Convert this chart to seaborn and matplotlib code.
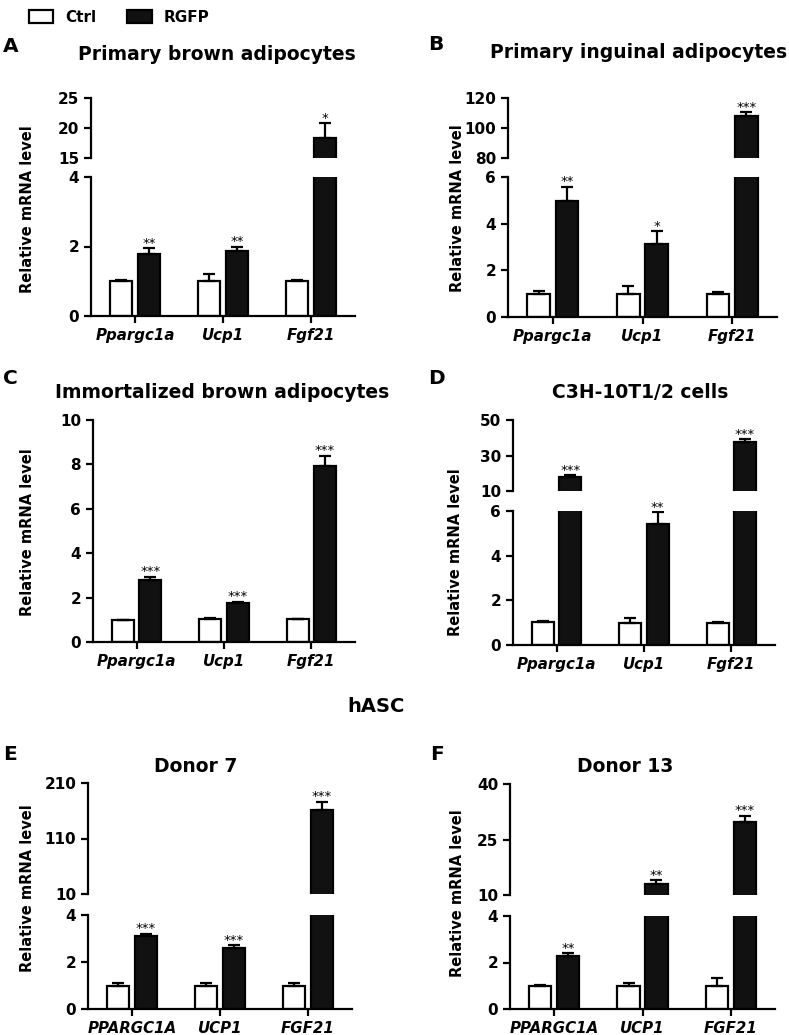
import matplotlib
matplotlib.use("Agg")
import matplotlib.pyplot as plt
import numpy as np
import pandas as pd
import seaborn as sns

W, H = 789, 1035

mouse_genes = ["Ppargc1a", "Ucp1", "Fgf21"]
human_genes = ["PPARGC1A", "UCP1", "FGF21"]
groups = ["Ctrl", "RGFP"]

# A. Primary brown adipocytes
a_ctrl = [1.0, 1.0, 1.0]
a_ctrl_err = [0.03, 0.21, 0.03]
a_rgfp = [1.79, 1.88, 18.4]
a_rgfp_err = [0.16, 0.11, 2.4]
a_stars = ["**", "**", "*"]

# B. Primary inguinal adipocytes
b_ctrl = [1.0, 1.0, 1.0]
b_ctrl_err = [0.13, 0.35, 0.06]
b_rgfp = [4.98, 3.11, 108.3]
b_rgfp_err = [0.6, 0.57, 2.3]
b_stars = ["**", "*", "***"]

# C. Immortalized brown adipocytes
c_ctrl = [1.0, 1.02, 1.02]
c_ctrl_err = [0.0, 0.04, 0.01]
c_rgfp = [2.79, 1.77, 7.93]
c_rgfp_err = [0.15, 0.05, 0.46]
c_stars = ["***", "***", "***"]

# D. C3H-10T1/2 cells
d_ctrl = [1.03, 1.0, 1.0]
d_ctrl_err = [0.03, 0.2, 0.01]
d_rgfp = [17.7, 5.4, 37.8]
d_rgfp_err = [1.1, 0.55, 1.5]
d_stars = ["***", "**", "***"]

# E. hASC donor 7
e_ctrl = [1.0, 1.0, 1.0]
e_ctrl_err = [0.1, 0.1, 0.1]
e_rgfp = [3.1, 2.6, 161.0]
e_rgfp_err = [0.1, 0.12, 15.0]
e_stars = ["***", "***", "***"]

# F. hASC donor 13
f_ctrl = [1.0, 1.0, 1.0]
f_ctrl_err = [0.05, 0.12, 0.33]
f_rgfp = [2.28, 13.0, 29.7]
f_rgfp_err = [0.13, 1.0, 1.7]
f_stars = ["**", "**", "***"]

sns.set_style("ticks")
plt.rcParams["font.family"] = ["DejaVu Sans"]
plt.rcParams["font.weight"] = "bold"
plt.rcParams["axes.linewidth"] = 1.6
for key in ["text.color", "axes.labelcolor", "xtick.color", "ytick.color",
            "axes.edgecolor"]:
    plt.rcParams[key] = "black"

fig = plt.figure(figsize=(W / 100, H / 100), dpi=100)
palette = {"Ctrl": "white", "RGFP": "#111111"}


def rect(l, t, r, b):
    return [l / W, 1 - b / H, (r - l) / W, (b - t) / H]


def make_df(genes, ctrl, rgfp):
    rows = []
    for g, c, r in zip(genes, ctrl, rgfp):
        rows.append({"gene": g, "group": "Ctrl", "value": c})
        rows.append({"gene": g, "group": "RGFP", "value": r})
    return pd.DataFrame(rows)


def draw_bars(ax, df, errs, stars, lim):
    sns.barplot(data=df, x="gene", y="value", hue="group", hue_order=groups,
                palette=palette, edgecolor="black", linewidth=1.6,
                width=0.63, gap=0.2, errorbar=None, ax=ax)
    for cont, err in zip(ax.containers, errs):
        xs = [p.get_x() + p.get_width() / 2 for p in cont.patches]
        vals = [p.get_height() for p in cont.patches]
        ax.errorbar(xs, vals, yerr=[np.zeros(len(err)), err], fmt="none",
                    ecolor="black", elinewidth=1.6, capsize=4, capthick=1.6)
    # stars above RGFP bars
    cont = ax.containers[1]
    for p, e, s in zip(cont.patches, errs[1], stars):
        top = p.get_height() + e
        if lim[0] <= top <= lim[1]:
            ax.annotate(s, (p.get_x() + p.get_width() / 2, top),
                        xytext=(0, 1), textcoords="offset points",
                        ha="center", va="baseline", fontsize=9.5,
                        fontweight="normal")
    ax.set_xlim(-0.5, 2.5)
    ax.set_ylim(*lim)
    ax.set_xlabel("")
    ax.set_ylabel("")
    if ax.get_legend() is not None:
        ax.get_legend().remove()
    ax.tick_params(direction="out", length=5, width=1.6, labelsize=11)
    sns.despine(ax=ax)


def panel(genes, ctrl, ctrl_err, rgfp, rgfp_err, stars, bot_rect, bot_lim,
          bot_ticks, top_rect=None, top_lim=None, top_ticks=None):
    df = make_df(genes, ctrl, rgfp)
    errs = [ctrl_err, rgfp_err]
    axb = fig.add_axes(rect(*bot_rect))
    draw_bars(axb, df, errs, stars, bot_lim)
    axb.set_yticks(bot_ticks)
    axb.set_yticklabels([str(t) for t in bot_ticks], fontweight="bold")
    axb.set_xticks(range(len(genes)))
    axb.set_xticklabels(genes, fontstyle="italic", fontweight="bold",
                        fontsize=10.8)
    handles, labels = axb.get_legend_handles_labels()
    if top_rect is not None:
        axt = fig.add_axes(rect(*top_rect))
        draw_bars(axt, df, errs, stars, top_lim)
        axt.set_yticks(top_ticks)
        axt.set_yticklabels([str(t) for t in top_ticks], fontweight="bold")
        axt.spines["bottom"].set_visible(False)
        axt.set_xticks([])
    return handles, labels


handles, labels = panel(mouse_genes, a_ctrl, a_ctrl_err, a_rgfp, a_rgfp_err, a_stars,
                        (91, 177, 355, 316), (0, 4), [0, 2, 4],
                        (91, 98, 355, 158), (15, 25), [15, 20, 25])
panel(mouse_genes, b_ctrl, b_ctrl_err, b_rgfp, b_rgfp_err, b_stars,
      (508, 177, 777, 317), (0, 6), [0, 2, 4, 6],
      (508, 98, 777, 158), (80, 120), [80, 100, 120])
panel(mouse_genes, c_ctrl, c_ctrl_err, c_rgfp, c_rgfp_err, c_stars,
      (93, 420, 355, 642), (0, 10), [0, 2, 4, 6, 8, 10])
panel(mouse_genes, d_ctrl, d_ctrl_err, d_rgfp, d_rgfp_err, d_stars,
      (513, 511, 775, 645), (0, 6), [0, 2, 4, 6],
      (513, 420, 775, 491), (10, 50), [10, 30, 50])
panel(human_genes, e_ctrl, e_ctrl_err, e_rgfp, e_rgfp_err, e_stars,
      (88, 915, 352, 1009), (0, 4), [0, 2, 4],
      (88, 783, 352, 894), (10, 210), [10, 110, 210])
panel(human_genes, f_ctrl, f_ctrl_err, f_rgfp, f_rgfp_err, f_stars,
      (510, 916, 775, 1009), (0, 4), [0, 2, 4],
      (510, 784, 775, 895), (10, 40), [10, 25, 40])


def ftext(x, y, s, **kw):
    fig.text(x / W, 1 - y / H, s, **kw)


titles = [(217, 55, "Primary brown adipocytes"),
          (639, 53, "Primary inguinal adipocytes"),
          (222, 392, "Immortalized brown adipocytes"),
          (640, 392, "C3H-10T1/2 cells"),
          (196, 766, "Donor 7"),
          (625, 766, "Donor 13")]
for x, y, s in titles:
    ftext(x, y, s, ha="center", va="center", fontsize=13.5, fontweight="bold")

letters = [(3, 46, "A"), (428, 45, "B"), (3, 378, "C"), (428, 378, "D"),
           (3, 755, "E"), (430, 755, "F")]
for x, y, s in letters:
    ftext(x, y, s, ha="left", va="center", fontsize=14.5, fontweight="bold")

ylabels = [(28, 209), (457, 208), (28, 532), (455, 552), (28, 888), (457, 893)]
for x, y in ylabels:
    ftext(x, y, "Relative mRNA level", ha="center", va="center", rotation=90,
          fontsize=10.5, fontweight="bold")

ftext(376, 706, "hASC", ha="center", va="center", fontsize=14, fontweight="bold")

fig.legend(handles, labels, loc="upper left", bbox_to_anchor=(15 / W, 1 + 4 / H),
           ncol=2, frameon=False, fontsize=11, handlelength=1.6,
           handleheight=0.95, columnspacing=2.0, handletextpad=0.8)

fig.savefig("out.png", dpi=100)
